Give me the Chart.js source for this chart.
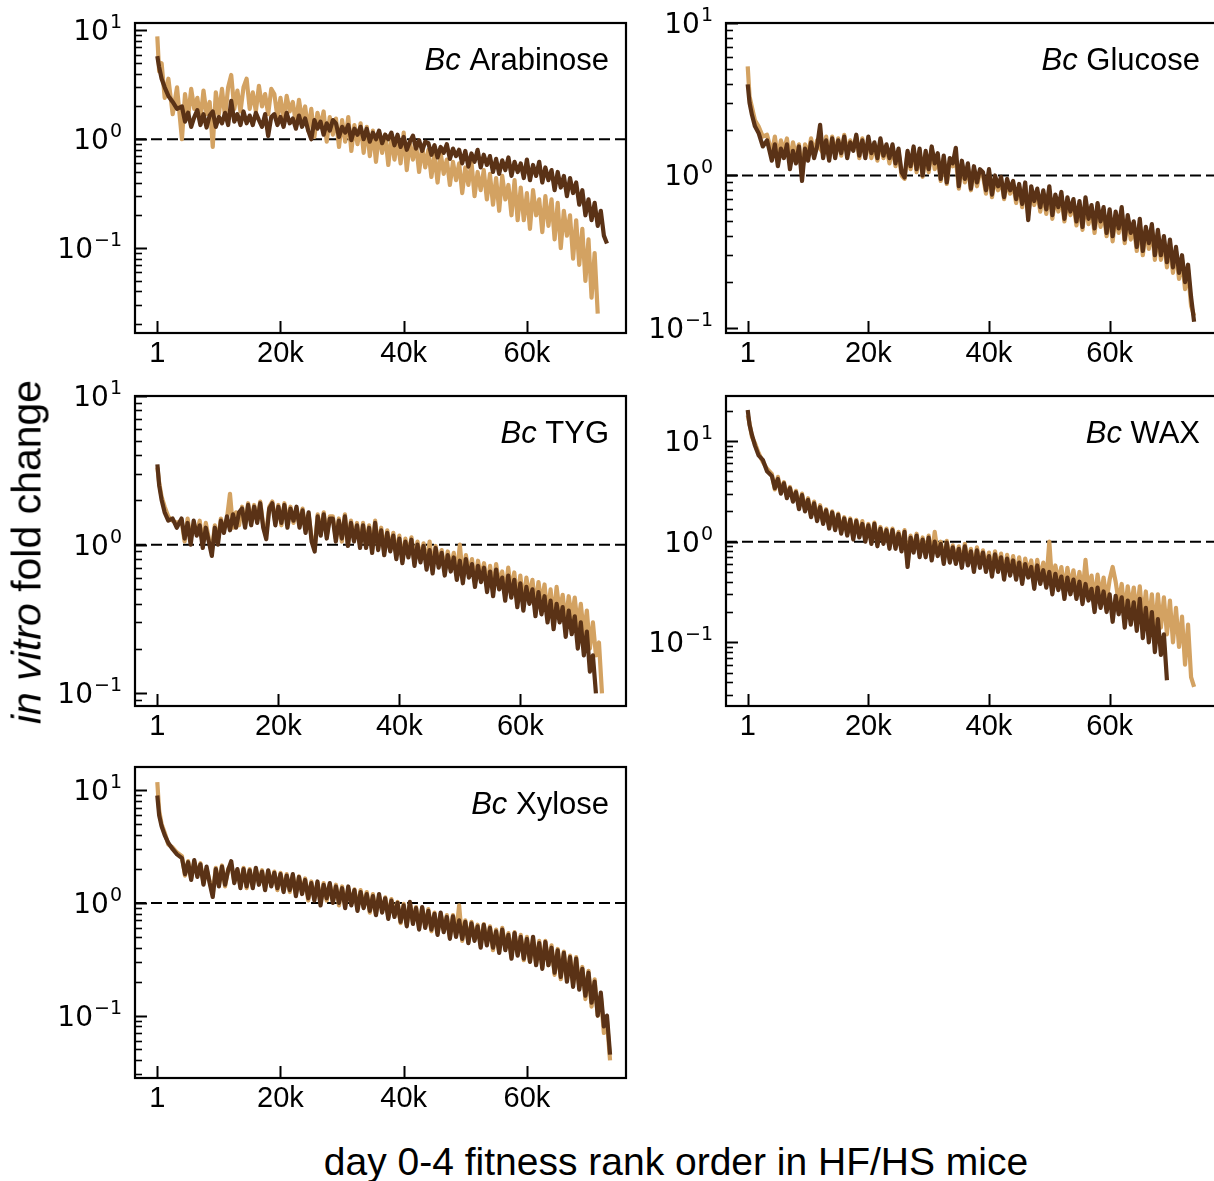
<!DOCTYPE html>
<html>
<head>
<meta charset="utf-8">
<script src="https://cdn.jsdelivr.net/npm/chart.js@4.4.1/dist/chart.umd.min.js"></script>
<style>
  html, body { margin: 0; padding: 0; background: #fff; }
  #fig { position: relative; width: 1214px; height: 1181px; overflow: hidden; font-family: 'Liberation Sans', Arial, sans-serif; color: #000; }
  #fig canvas { position: absolute; }
  #ytitle { position: absolute; left: 27px; top: 552px; transform: translate(-50%, -50%) rotate(-90deg); font-size: 41px; line-height: 1; white-space: nowrap; }
  #xtitle { position: absolute; left: 676px; top: 1161px; transform: translate(-50%, -50%); font-size: 39px; line-height: 1; white-space: nowrap; }
</style>
</head>
<body>
<div id="fig">
  <canvas id="c1" width="640" height="375" style="left:0;top:0"></canvas>
  <canvas id="c2" width="580" height="375" style="left:640px;top:0"></canvas>
  <canvas id="c3" width="640" height="375" style="left:0;top:375px"></canvas>
  <canvas id="c4" width="580" height="375" style="left:640px;top:375px"></canvas>
  <canvas id="c5" width="640" height="370" style="left:0;top:750px"></canvas>
  <div id="ytitle"><i>in vitro</i> fold change</div>
  <div id="xtitle">day 0-4 fitness rank order in HF/HS mice</div>
</div>
<script>

// Data

var rankX = [
  1, 300, 700, 1200, 1800, 2500, 3200,
  4000, 4500, 5000, 5500, 6000, 6500, 7000, 7500, 8000, 8500,
  9000, 9500, 10000, 10500, 11000, 11500, 12000, 12500, 13000, 13500,
  14000, 14500, 15000, 15500, 16000, 16500, 17000, 17500, 18000, 18500,
  19000, 19500, 20000, 20500, 21000, 21500, 22000, 22500, 23000, 23500,
  24000, 24500, 25000, 25500, 26000, 26500, 27000, 27500, 28000, 28500,
  29000, 29500, 30000, 30500, 31000, 31500, 32000, 32500, 33000, 33500,
  34000, 34500, 35000, 35500, 36000, 36500, 37000, 37500, 38000, 38500,
  39000, 39500, 40000, 40500, 41000, 41500, 42000, 42500, 43000, 43500,
  44000, 44500, 45000, 45500, 46000, 46500, 47000, 47500, 48000, 48500,
  49000, 49500, 50000, 50500, 51000, 51500, 52000, 52500, 53000, 53500,
  54000, 54500, 55000, 55500, 56000, 56500, 57000, 57500, 58000, 58500,
  59000, 59500, 60000, 60500, 61000, 61500, 62000, 62500, 63000, 63500,
  64000, 64500, 65000, 65500, 66000, 66500, 67000, 67500, 68000, 68500,
  69000, 69500, 70000, 70500, 71000, 71500, 72000, 72500, 73000, 73500,
  74000, 74500
];

var arabinoseDark = [
  5.8, 4.6, 3.6, 3.0, 2.5, 2.2, 1.9,
  2.0, 1.45, 1.75, 1.3, 1.6, 1.85, 1.35, 1.7, 1.28, 1.65,
  1.8, 1.3, 1.6, 1.4, 1.75, 1.35, 2.25, 1.45, 1.7, 1.35,
  1.8, 1.4, 1.65, 1.35, 1.75, 1.5, 1.3, 1.7, 1.07, 1.6,
  1.7, 1.35, 1.6, 1.3, 1.75, 1.4, 1.55, 1.25, 1.65, 1.3,
  1.55, 1.2, 1.0, 1.5, 1.25, 1.45, 1.1, 1.4, 1.2, 1.5,
  1.4, 1.05, 1.3, 1.15, 1.35, 0.98, 1.25, 1.1, 1.3, 1.0,
  1.25, 0.95, 1.15, 1.0, 1.2, 0.92, 1.1, 1.0, 1.15, 0.88,
  1.1, 0.85, 1.05, 0.8, 0.95, 1.08, 0.82, 0.98, 0.78, 0.95,
  0.92, 0.72, 0.88, 0.68, 0.85, 0.75, 0.9, 0.66, 0.82, 0.7,
  0.8, 0.6, 0.78, 0.56, 0.74, 0.62, 0.8, 0.55, 0.72, 0.58,
  0.7, 0.5, 0.66, 0.48, 0.64, 0.52, 0.68, 0.46, 0.62, 0.5,
  0.6, 0.44, 0.65, 0.42, 0.58, 0.46, 0.62, 0.4, 0.55, 0.42,
  0.52, 0.34, 0.5, 0.36, 0.46, 0.3, 0.44, 0.32, 0.4, 0.25,
  0.34, 0.2, 0.28, 0.18, 0.26, 0.16, 0.22, 0.13, 0.11
];
var arabinoseTan = [
  8.8, 4.2, 5.0, 2.4, 3.6, 1.7, 3.0,
  1.0, 2.6, 1.6, 2.9, 1.9, 2.4, 1.5, 2.8, 1.7, 2.2,
  0.85, 2.7, 1.7, 2.9, 1.6, 3.0, 3.9, 1.9, 2.8, 1.8,
  3.0, 3.6, 1.9, 2.7, 1.8, 3.1, 2.0, 2.6, 1.7, 2.9,
  2.6, 1.6, 2.4, 1.5, 2.5, 1.8, 2.2, 1.4, 2.3, 1.5,
  2.0, 1.2, 1.9, 1.05, 1.75, 1.3, 1.8, 0.95, 1.6, 1.1,
  1.55, 0.85, 1.5, 0.95, 1.6, 0.78, 1.35, 0.9, 1.4, 0.75,
  1.3, 0.7, 1.2, 0.62, 1.15, 0.75, 1.1, 0.58, 1.05, 0.65,
  1.0, 0.6, 1.15, 0.52, 0.95, 0.65, 0.9, 0.5, 0.85, 0.55,
  0.8, 0.45, 0.72, 0.4, 0.75, 0.48, 0.65, 0.38, 0.62, 0.42,
  0.6, 0.32, 0.55, 0.38, 0.62, 0.3, 0.5, 0.34, 0.52, 0.28,
  0.48, 0.25, 0.44, 0.22, 0.46, 0.28, 0.38, 0.2, 0.42, 0.18,
  0.36, 0.18, 0.32, 0.15, 0.34, 0.2, 0.28, 0.14, 0.3, 0.16,
  0.28, 0.12, 0.26, 0.1, 0.22, 0.13, 0.2, 0.08, 0.18, 0.07,
  0.15, 0.05, 0.12, 0.035, 0.09, 0.025
];

var glucoseDark = [
  3.96, 3.0, 2.5, 2.1, 1.9, 1.55, 1.7,
  1.25, 1.6, 1.15, 1.5, 1.3, 1.6, 1.1, 1.45, 1.2, 1.55,
  0.92, 1.5, 1.25, 1.65, 1.3, 1.55, 2.15, 1.3, 1.7, 1.25,
  1.75, 1.3, 1.7, 1.4, 1.8, 1.3, 1.65, 1.45, 1.85, 1.35,
  1.7, 1.3, 1.8, 1.4, 1.65, 1.3, 1.75, 1.35, 1.6, 1.3,
  1.6, 1.2, 1.5, 1.05, 0.97, 1.45, 1.15, 1.55, 1.1, 1.5,
  1.0, 1.45, 1.1, 1.55, 1.2, 1.4, 0.95, 1.35, 0.9, 1.3,
  1.2, 1.52, 0.85, 1.25, 0.95, 1.2, 0.82, 1.15, 0.9, 1.1,
  1.05, 0.8, 1.1, 0.75, 1.0, 0.85, 0.98, 0.72, 0.95, 0.8,
  0.92, 0.7, 0.88, 0.65, 0.9, 0.51, 0.85, 0.68, 0.82, 0.62,
  0.8, 0.6, 0.85, 0.55, 0.75, 0.62, 0.78, 0.52, 0.72, 0.58,
  0.7, 0.5, 0.68, 0.46, 0.72, 0.52, 0.64, 0.45, 0.66, 0.5,
  0.62, 0.42, 0.6, 0.4, 0.58, 0.45, 0.62, 0.38, 0.55, 0.42,
  0.5, 0.34, 0.52, 0.32, 0.46, 0.36, 0.48, 0.3, 0.44, 0.3,
  0.4, 0.27, 0.38, 0.25, 0.34, 0.23, 0.3, 0.2, 0.26, 0.16,
  0.11
];
var glucoseTan = [
  5.2, 3.3, 2.8, 2.3, 2.1, 1.8, 1.85,
  1.4, 1.8, 1.3, 1.7, 1.45, 1.75, 1.25, 1.65, 1.35, 1.6,
  1.0, 1.6, 1.35, 1.75, 1.4, 1.7, 1.5, 1.4, 1.8, 1.3,
  1.8, 1.4, 1.75, 1.35, 1.85, 1.4, 1.7, 1.5, 1.8, 1.3,
  1.75, 1.35, 1.7, 1.3, 1.6, 1.25, 1.7, 1.3, 1.55, 1.2,
  1.55, 1.15, 1.45, 1.0, 0.95, 1.4, 1.1, 1.5, 1.05, 1.45,
  0.98, 1.4, 1.05, 1.5, 1.1, 1.35, 0.92, 1.3, 0.88, 1.25,
  1.15, 1.3, 0.82, 1.2, 0.9, 1.15, 0.8, 1.1, 0.85, 1.05,
  1.0, 0.76, 1.05, 0.72, 0.98, 0.8, 0.95, 0.7, 0.92, 0.76,
  0.88, 0.66, 0.85, 0.62, 0.86, 0.55, 0.8, 0.64, 0.78, 0.58,
  0.76, 0.56, 0.8, 0.52, 0.72, 0.58, 0.74, 0.5, 0.68, 0.55,
  0.66, 0.47, 0.64, 0.44, 0.68, 0.48, 0.6, 0.42, 0.62, 0.46,
  0.58, 0.4, 0.56, 0.37, 0.55, 0.42, 0.58, 0.36, 0.52, 0.38,
  0.47, 0.32, 0.48, 0.3, 0.44, 0.33, 0.45, 0.28, 0.42, 0.28,
  0.38, 0.25, 0.36, 0.23, 0.32, 0.21, 0.28, 0.18, 0.24, 0.14,
  0.12
];

var tygDark = [
  3.47, 2.5, 2.0, 1.65, 1.45, 1.5, 1.3,
  1.5, 1.1, 1.4, 1.0, 1.45, 1.15, 1.35, 0.95, 1.3, 1.05,
  0.84, 1.3, 1.0, 1.45, 1.2, 1.55, 1.25, 1.6, 1.3, 1.65,
  1.75, 1.3, 1.85, 1.35, 1.8, 1.4, 1.9, 1.3, 1.09, 1.75,
  1.9, 1.35, 1.8, 1.4, 1.85, 1.3, 1.75, 1.45, 1.8, 1.3,
  1.7, 1.2, 1.65, 1.05, 0.9, 1.55, 1.15, 1.6, 1.1, 1.5,
  1.5, 1.05, 1.45, 1.1, 1.55, 0.98, 1.4, 1.05, 1.35, 0.95,
  1.35, 0.95, 1.3, 0.88, 1.4, 0.92, 1.25, 0.85, 1.2, 0.9,
  1.15, 0.8, 1.1, 0.75, 1.05, 0.82, 1.08, 0.72, 1.0, 0.76,
  0.98, 0.68, 0.92, 0.64, 0.95, 0.7, 0.88, 0.62, 0.85, 0.66,
  0.82, 0.58, 0.78, 0.55, 0.8, 0.6, 0.74, 0.52, 0.72, 0.56,
  0.7, 0.48, 0.66, 0.45, 0.68, 0.5, 0.6, 0.42, 0.62, 0.44,
  0.58, 0.38, 0.55, 0.36, 0.52, 0.4, 0.5, 0.33, 0.48, 0.34,
  0.45, 0.3, 0.42, 0.27, 0.4, 0.3, 0.38, 0.24, 0.36, 0.25,
  0.33, 0.2, 0.3, 0.18, 0.26, 0.14, 0.18, 0.1
];
var tygTan = [
  3.3, 2.6, 2.1, 1.8, 1.55, 1.45, 1.4,
  1.45, 1.05, 1.5, 1.1, 1.35, 1.2, 1.45, 1.0, 1.4, 1.1,
  0.9, 1.35, 1.05, 1.5, 1.25, 1.5, 2.2, 1.3, 1.65, 1.35,
  1.8, 1.35, 1.9, 1.4, 1.85, 1.45, 1.95, 1.35, 1.2, 1.8,
  1.95, 1.4, 1.85, 1.35, 1.9, 1.4, 1.8, 1.4, 1.75, 1.35,
  1.75, 1.25, 1.6, 1.1, 0.95, 1.6, 1.2, 1.65, 1.15, 1.55,
  1.55, 1.1, 1.5, 1.05, 1.6, 1.0, 1.45, 1.1, 1.4, 1.0,
  1.4, 1.0, 1.35, 0.92, 1.45, 0.95, 1.3, 0.9, 1.25, 0.92,
  1.2, 0.85, 1.15, 0.78, 1.1, 0.85, 1.12, 0.75, 1.05, 0.8,
  1.02, 0.72, 1.05, 0.68, 0.98, 0.74, 0.92, 0.66, 0.9, 0.7,
  0.88, 0.62, 1.0, 0.6, 0.85, 0.64, 0.8, 0.56, 0.78, 0.6,
  0.75, 0.52, 0.72, 0.5, 0.74, 0.54, 0.66, 0.46, 0.7, 0.48,
  0.65, 0.42, 0.62, 0.4, 0.6, 0.45, 0.58, 0.38, 0.56, 0.4,
  0.54, 0.34, 0.5, 0.32, 0.52, 0.35, 0.46, 0.3, 0.45, 0.32,
  0.44, 0.28, 0.4, 0.25, 0.36, 0.2, 0.3, 0.18, 0.22, 0.1
];

var waxDark = [
  20.3, 14.5, 11.5, 9.0, 7.2, 6.5, 5.0,
  4.5, 3.4, 4.2, 3.0, 3.8, 2.7, 3.4, 2.5, 3.1, 2.1,
  2.9, 2.0, 2.6, 1.75, 2.4, 1.6, 2.2, 1.5, 2.05, 1.35,
  1.95, 1.3, 1.85, 1.2, 1.7, 1.15, 1.65, 1.05, 1.6, 1.1,
  1.5, 1.0, 1.45, 0.95, 1.5, 0.9, 1.35, 0.95, 1.3, 0.85,
  1.3, 0.85, 1.2, 0.8, 1.25, 0.56, 1.1, 0.78, 1.15, 0.7,
  1.05, 0.7, 1.1, 0.65, 1.0, 0.72, 0.95, 0.6, 0.98, 0.62,
  0.88, 0.6, 0.85, 0.55, 0.9, 0.58, 0.8, 0.5, 0.82, 0.55,
  0.78, 0.5, 0.72, 0.45, 0.75, 0.5, 0.7, 0.42, 0.68, 0.46,
  0.65, 0.42, 0.62, 0.38, 0.6, 0.44, 0.56, 0.34, 0.58, 0.38,
  0.52, 0.35, 0.5, 0.3, 0.48, 0.33, 0.45, 0.27, 0.44, 0.3,
  0.42, 0.27, 0.4, 0.24, 0.38, 0.26, 0.34, 0.2, 0.35, 0.22,
  0.32, 0.2, 0.3, 0.16, 0.29, 0.19, 0.28, 0.14, 0.26, 0.15,
  0.25, 0.13, 0.27, 0.11, 0.22, 0.1, 0.2, 0.08, 0.17, 0.075,
  0.12, 0.042
];
var waxTan = [
  18.0, 15.0, 11.0, 9.5, 7.6, 6.2, 5.3,
  4.7, 3.3, 4.4, 3.1, 3.9, 2.8, 3.5, 2.6, 3.2, 2.2,
  3.0, 2.1, 2.7, 1.8, 2.5, 1.7, 2.3, 1.55, 2.1, 1.4,
  2.0, 1.35, 1.9, 1.25, 1.75, 1.2, 1.7, 1.1, 1.65, 1.15,
  1.6, 1.05, 1.5, 1.0, 1.55, 0.95, 1.4, 1.0, 1.35, 0.9,
  1.35, 0.9, 1.25, 0.85, 1.3, 0.6, 1.15, 0.82, 1.2, 0.75,
  1.1, 0.75, 1.15, 0.7, 1.25, 0.76, 1.0, 0.65, 1.02, 0.66,
  0.92, 0.64, 0.9, 0.6, 0.95, 0.62, 0.85, 0.55, 0.88, 0.6,
  0.82, 0.55, 0.78, 0.5, 0.8, 0.55, 0.76, 0.47, 0.74, 0.5,
  0.72, 0.47, 0.7, 0.44, 0.68, 0.5, 0.65, 0.4, 0.66, 0.43,
  0.62, 0.4, 1.0, 0.36, 0.58, 0.4, 0.56, 0.33, 0.55, 0.36,
  0.52, 0.33, 0.5, 0.3, 0.66, 0.32, 0.46, 0.26, 0.47, 0.28,
  0.44, 0.26, 0.42, 0.56, 0.4, 0.25, 0.38, 0.2, 0.36, 0.22,
  0.35, 0.19, 0.36, 0.17, 0.32, 0.16, 0.3, 0.13, 0.3, 0.14,
  0.28, 0.12, 0.26, 0.1, 0.22, 0.09, 0.18, 0.06, 0.15, 0.045,
  0.036
];

var xyloseDark = [
  9.0, 6.0, 4.8, 4.0, 3.4, 3.0, 2.7,
  2.5, 1.8, 2.3, 1.6, 2.4, 1.7, 2.2, 1.45, 2.1, 1.5,
  1.13, 2.0, 1.4, 2.1, 1.45, 1.95, 2.35, 1.5, 2.0, 1.35,
  2.0, 1.4, 1.95, 1.35, 2.05, 1.45, 1.9, 1.3, 1.95, 1.4,
  1.85, 1.35, 1.8, 1.25, 1.75, 1.3, 1.8, 1.15, 1.7, 1.2,
  1.6, 1.1, 1.5, 1.05, 1.55, 0.95, 1.45, 1.1, 1.5, 1.0,
  1.4, 1.0, 1.35, 0.9, 1.4, 0.95, 1.3, 0.85, 1.25, 0.9,
  1.2, 0.85, 1.15, 0.78, 1.2, 0.82, 1.1, 0.72, 1.05, 0.75,
  1.0, 0.68, 0.95, 0.62, 1.02, 0.65, 0.9, 0.58, 0.92, 0.6,
  0.85, 0.58, 0.8, 0.52, 0.82, 0.55, 0.75, 0.48, 0.76, 0.5,
  0.7, 0.48, 0.68, 0.44, 0.66, 0.46, 0.62, 0.4, 0.64, 0.42,
  0.6, 0.4, 0.56, 0.36, 0.58, 0.38, 0.52, 0.32, 0.54, 0.34,
  0.5, 0.32, 0.48, 0.3, 0.5, 0.28, 0.44, 0.26, 0.45, 0.28,
  0.4, 0.24, 0.38, 0.22, 0.36, 0.2, 0.33, 0.18, 0.32, 0.17,
  0.26, 0.15, 0.24, 0.13, 0.2, 0.1, 0.16, 0.08, 0.1, 0.045
];
var xyloseTan = [
  11.8, 6.6, 5.0, 4.2, 3.3, 3.1, 2.8,
  2.6, 1.75, 2.35, 1.65, 2.3, 1.8, 2.25, 1.5, 2.0, 1.55,
  1.2, 2.05, 1.45, 2.15, 1.4, 2.0, 2.2, 1.55, 1.95, 1.4,
  2.05, 1.35, 2.0, 1.4, 2.0, 1.5, 1.95, 1.35, 1.9, 1.45,
  1.9, 1.3, 1.85, 1.3, 1.8, 1.25, 1.75, 1.2, 1.72, 1.25,
  1.65, 1.05, 1.55, 1.1, 1.5, 1.0, 1.5, 1.05, 1.45, 1.05,
  1.45, 0.95, 1.4, 0.95, 1.35, 0.98, 1.32, 0.88, 1.3, 0.92,
  1.25, 0.82, 1.2, 0.8, 1.15, 0.85, 1.12, 0.75, 1.08, 0.78,
  1.02, 0.66, 0.98, 0.64, 1.0, 0.68, 0.92, 0.6, 0.9, 0.62,
  0.88, 0.56, 0.82, 0.54, 0.8, 0.57, 0.78, 0.5, 0.78, 0.52,
  0.95, 0.46, 0.7, 0.45, 0.68, 0.48, 0.64, 0.42, 0.65, 0.43,
  0.62, 0.38, 0.58, 0.37, 0.6, 0.4, 0.54, 0.33, 0.55, 0.35,
  0.52, 0.31, 0.5, 0.3, 0.48, 0.29, 0.46, 0.27, 0.46, 0.28,
  0.42, 0.23, 0.39, 0.21, 0.37, 0.21, 0.34, 0.19, 0.33, 0.18,
  0.27, 0.14, 0.25, 0.12, 0.21, 0.1, 0.15, 0.07, 0.09, 0.04
];

var xTickValues = [1, 20000, 40000, 60000];
var xTickLabels = ['1', '20k', '40k', '60k'];
var yTickValues = [0.1, 1, 10];
var yTickExponents = ['\u22121', '0', '1'];
var neutralLevel = 1;


// Styles

var TAN = '#D3A262';
var DARK = '#5A3216';

var panels = [
  { id: 'c1', title: 'Arabinose', dark: arabinoseDark, tan: arabinoseTan,
    xMin: -3620, xMax: 76090, yMin: 0.01656, yMax: 11.7,
    pad: { top: 23, right: 14, left: 135, bottom: 42 } },
  { id: 'c2', title: 'Glucose', dark: glucoseDark, tan: glucoseTan,
    xMin: -3600, xMax: 77800, yMin: 0.0927, yMax: 10,
    pad: { top: 23, right: 3, left: 86, bottom: 42 } },
  { id: 'c3', title: 'TYG', dark: tygDark, tan: tygTan,
    xMin: -3700, xMax: 77470, yMin: 0.0822, yMax: 10,
    pad: { top: 21, right: 14, left: 135, bottom: 44 } },
  { id: 'c4', title: 'WAX', dark: waxDark, tan: waxTan,
    xMin: -3600, xMax: 77800, yMin: 0.0233, yMax: 28.0,
    pad: { top: 21, right: 3, left: 86, bottom: 44 } },
  { id: 'c5', title: 'Xylose', dark: xyloseDark, tan: xyloseTan,
    xMin: -3620, xMax: 76090, yMin: 0.0279, yMax: 16.1,
    pad: { top: 17, right: 14, left: 135, bottom: 42 } }
];


// Methods

function toPoints(ys) {
  return ys.map(function (y, i) { return { x: rankX[i], y: y }; });
}

// matplotlib-like frame: box, inward ticks, 10^k labels, italic species tag
var mplFrame = {
  id: 'mplFrame',
  afterDatasetsDraw: function (chart, args, opts) {
    var ctx = chart.ctx, a = chart.chartArea;
    var xs = chart.scales.x, ys = chart.scales.y;
    ctx.save();
    ctx.strokeStyle = '#000';
    ctx.fillStyle = '#000';
    ctx.lineCap = 'butt';

    ys.ticks.forEach(function (t) {
      var p = Math.round(ys.getPixelForValue(t.value)) + 0.5;
      ctx.lineWidth = t.major ? 2 : 1.6;
      ctx.beginPath();
      ctx.moveTo(a.left, p);
      ctx.lineTo(a.left + (t.major ? 12 : 7), p);
      ctx.stroke();
    });
    xs.ticks.forEach(function (t) {
      var p = Math.round(xs.getPixelForValue(t.value)) + 0.5;
      ctx.lineWidth = 2;
      ctx.beginPath();
      ctx.moveTo(p, a.bottom);
      ctx.lineTo(p, a.bottom - 12);
      ctx.stroke();
    });

    ctx.lineWidth = 2.2;
    ctx.strokeRect(a.left, a.top, a.right - a.left, a.bottom - a.top);

    // y labels as 10 with raised exponent
    ctx.textAlign = 'left';
    ctx.textBaseline = 'alphabetic';
    yTickValues.forEach(function (v, k) {
      if (v < ys.min * 0.9999 || v > ys.max * 1.0001) return;
      var p = ys.getPixelForValue(v);
      ctx.font = '19px "DejaVu Sans"';
      var wExp = ctx.measureText(yTickExponents[k]).width;
      ctx.font = '28px "DejaVu Sans"';
      var wBase = ctx.measureText('10').width;
      var xEnd = a.left - 13;
      ctx.fillText('10', xEnd - wExp - wBase - 1, p + 10);
      ctx.font = '19px "DejaVu Sans"';
      ctx.fillText(yTickExponents[k], xEnd - wExp, p - 2);
    });

    var rest = ' ' + opts.title;
    ctx.font = '31px "Liberation Sans"';
    var wRest = ctx.measureText(rest).width;
    ctx.font = 'italic 31px "Liberation Sans"';
    var wBc = ctx.measureText('Bc').width;
    var xr = a.right - 17, yb = a.top + 47;
    ctx.fillText('Bc', xr - wRest - wBc, yb);
    ctx.font = '31px "Liberation Sans"';
    ctx.fillText(rest, xr - wRest, yb);
    ctx.restore();
  }
};

function init(p) {
  var ctx = document.getElementById(p.id);
  return new Chart(ctx, {
    type: 'line',
    data: {
      datasets: [
        { data: toPoints(p.dark), borderColor: DARK, borderWidth: 4.2, order: 1 },
        { data: toPoints(p.tan), borderColor: TAN, borderWidth: 4.2, order: 2 },
        { data: [{ x: p.xMin, y: neutralLevel }, { x: p.xMax, y: neutralLevel }],
          borderColor: '#000', borderWidth: 2, borderDash: [11, 5], order: 3 }
      ]
    },
    options: {
      responsive: false,
      animation: false,
      events: [],
      layout: { padding: { top: p.pad.top, right: p.pad.right, left: 0, bottom: 0 } },
      elements: {
        point: { radius: 0 },
        line: { tension: 0, borderJoinStyle: 'round', fill: false }
      },
      scales: {
        x: {
          type: 'linear',
          min: p.xMin,
          max: p.xMax,
          grid: { display: false, drawTicks: false },
          border: { display: false },
          afterBuildTicks: function (scale) {
            scale.ticks = xTickValues.map(function (v) { return { value: v }; });
          },
          afterFit: function (scale) { scale.height = p.pad.bottom; },
          ticks: {
            autoSkip: false,
            maxRotation: 0,
            padding: 4,
            color: '#000',
            font: { family: 'Liberation Sans', size: 29 },
            callback: function (v) { return xTickLabels[xTickValues.indexOf(v)]; }
          }
        },
        y: {
          type: 'logarithmic',
          min: p.yMin,
          max: p.yMax,
          grid: { display: false, drawTicks: false },
          border: { display: false },
          afterBuildTicks: function (scale) {
            var ticks = [];
            for (var e = -3; e <= 2; e++) {
              for (var m = 1; m <= 9; m++) {
                var v = m * Math.pow(10, e);
                if (v >= scale.min * 0.9999 && v <= scale.max * 1.0001) {
                  ticks.push({ value: v, major: m === 1 });
                }
              }
            }
            scale.ticks = ticks;
          },
          afterFit: function (scale) { scale.width = p.pad.left; },
          ticks: { display: false, autoSkip: false }
        }
      },
      plugins: {
        legend: { display: false },
        tooltip: { enabled: false },
        mplFrame: { title: p.title }
      }
    },
    plugins: [mplFrame]
  });
}


// Events

panels.forEach(init);

</script>
</body>
</html>
